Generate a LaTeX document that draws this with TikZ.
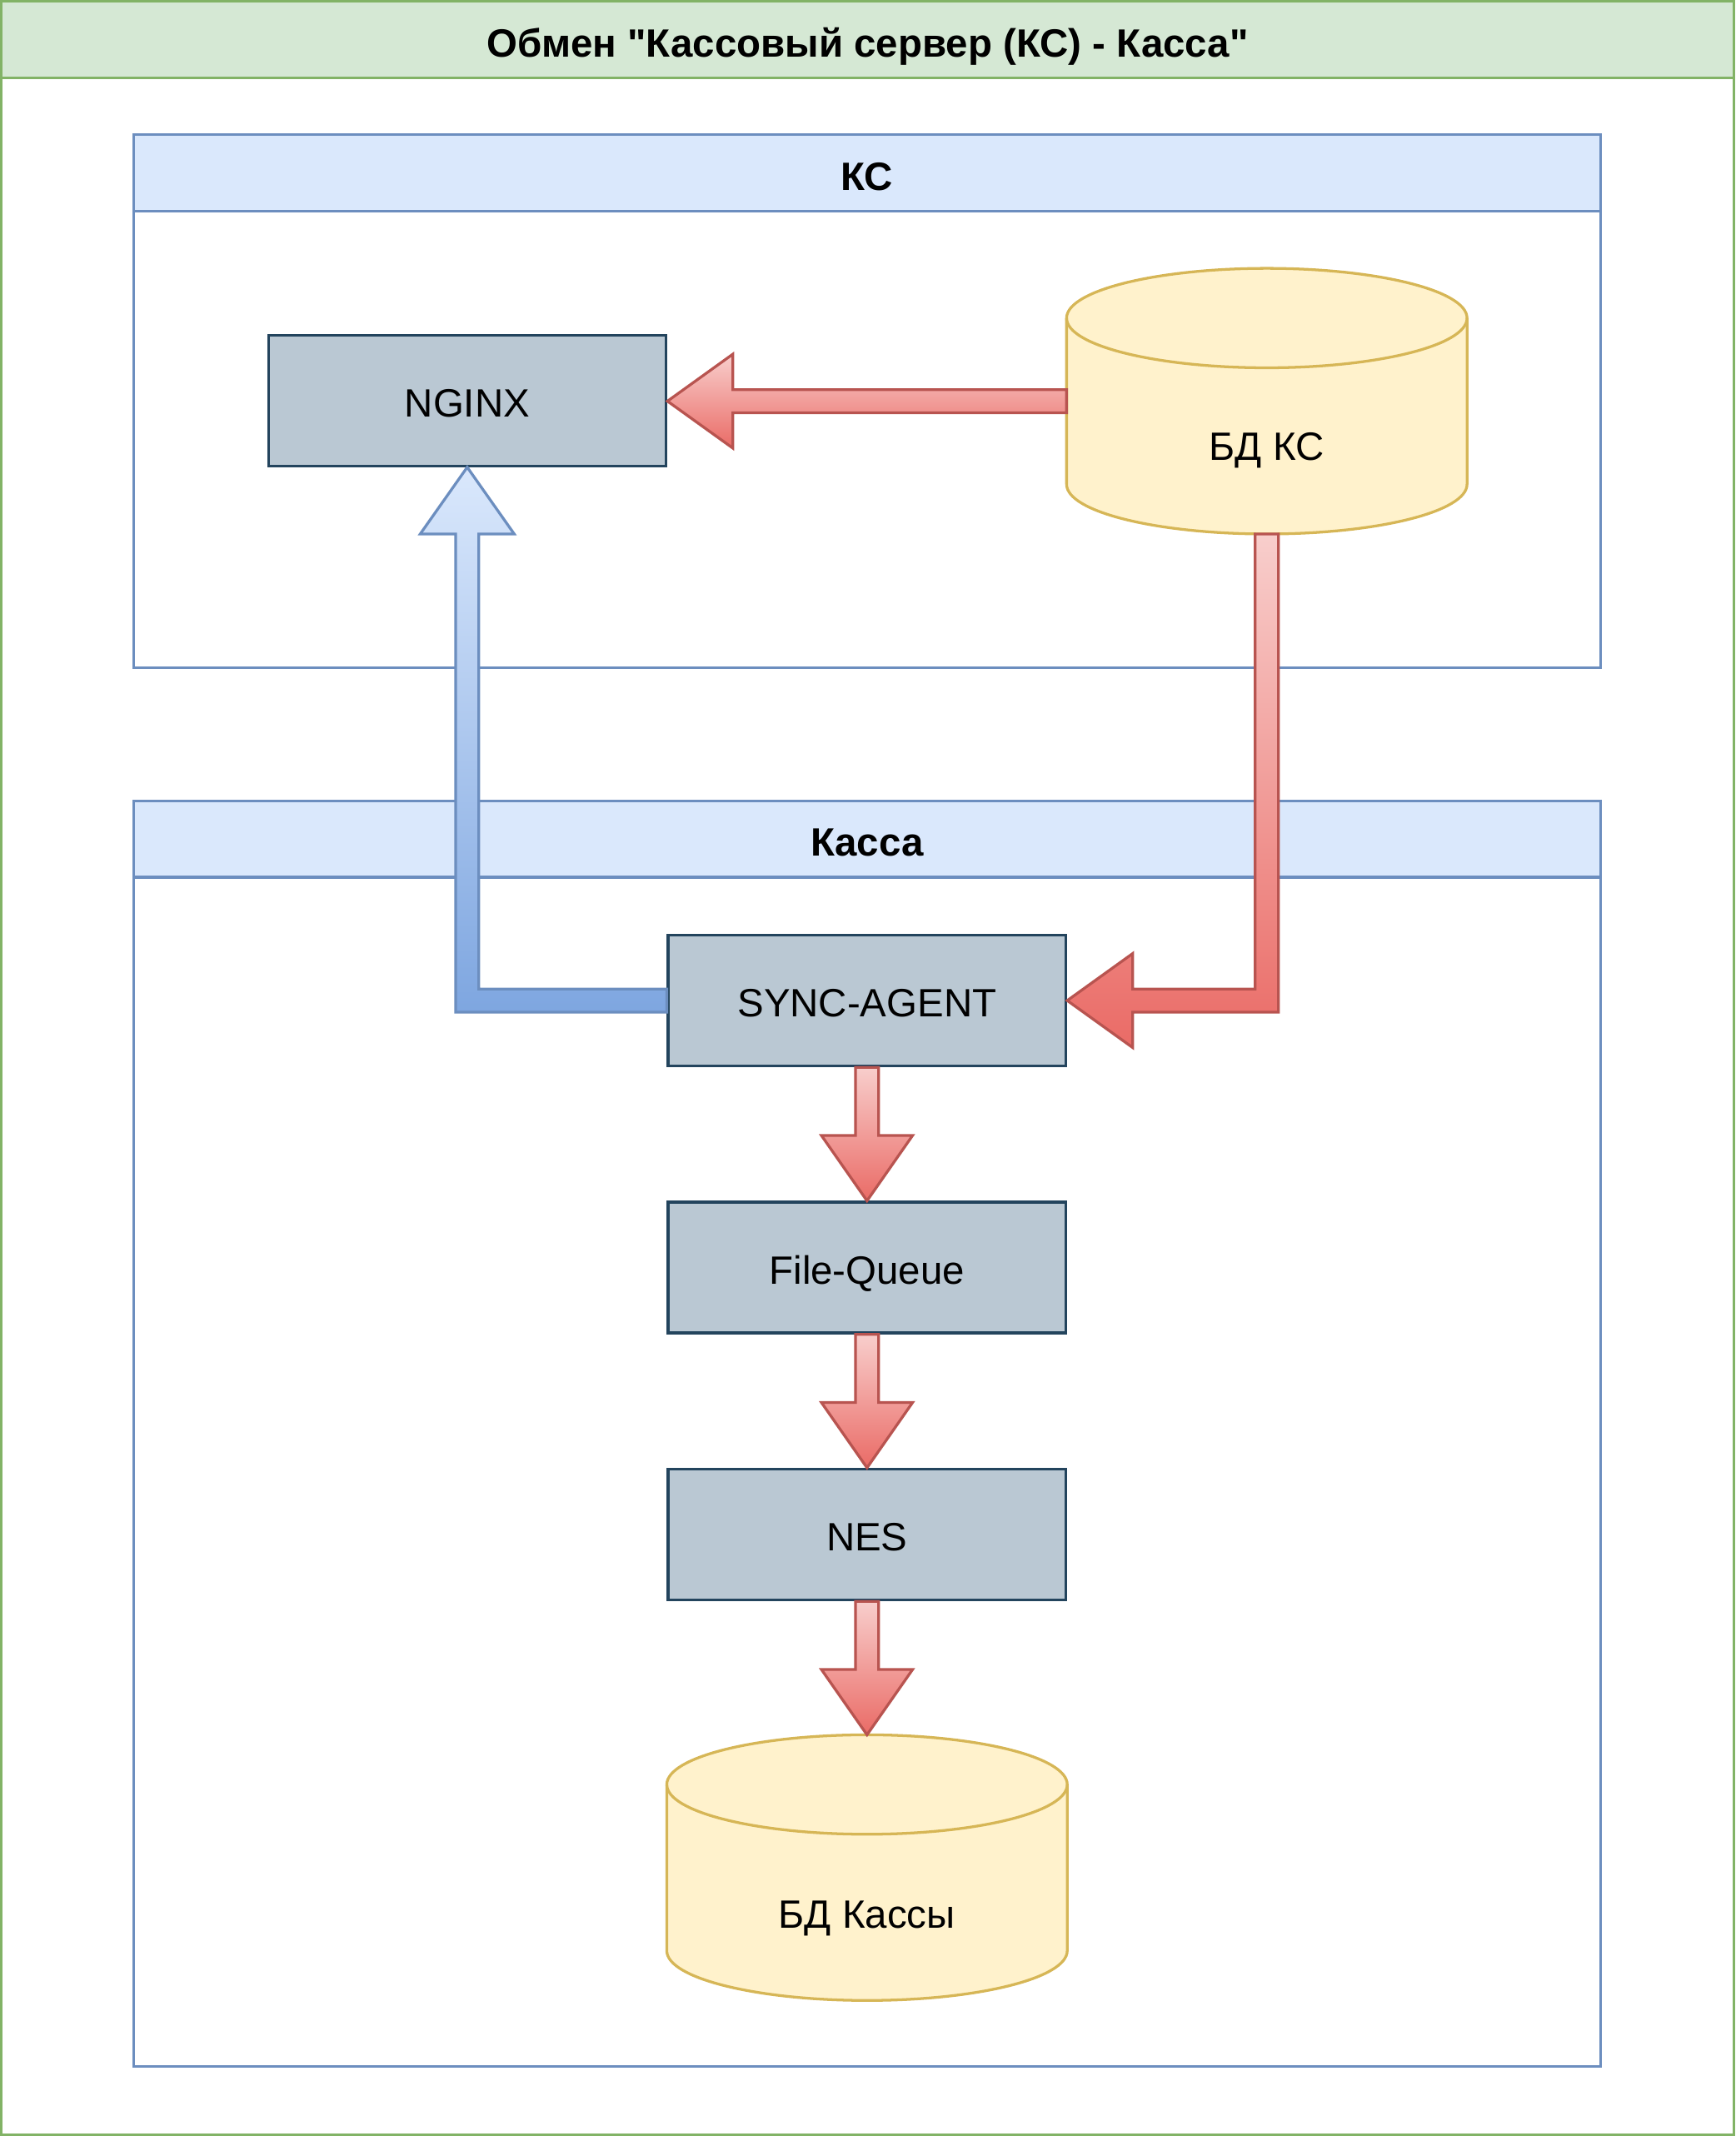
\documentclass[tikz,border=0pt]{standalone}
\usepackage{fontspec}
\setmainfont{Liberation Sans}
\usetikzlibrary{positioning,calc}

\definecolor{boxfill}{HTML}{BAC8D3}
\definecolor{boxline}{HTML}{23445D}
\definecolor{dbfill}{HTML}{FFF2CC}
\definecolor{dbline}{HTML}{D6B656}
\definecolor{headfill}{HTML}{DAE8FC}
\definecolor{headline}{HTML}{6C8EBF}
\definecolor{greenfill}{HTML}{D5E8D4}
\definecolor{greenline}{HTML}{82B366}
\definecolor{redtop}{HTML}{F8CECC}
\definecolor{redbottom}{HTML}{EA6B66}
\definecolor{redline}{HTML}{B85450}
\definecolor{bluetop}{HTML}{DAE8FC}
\definecolor{bluebottom}{HTML}{7EA6E0}

\tikzset{
  txt/.style={font=\fontsize{29}{34}\selectfont, text height=24pt, text depth=0pt},
  box/.style={rectangle, draw=boxline, fill=boxfill, line width=2pt,
    minimum width=292pt, minimum height=96pt, inner sep=0pt, txt},
  dbnode/.style={rectangle, minimum width=294pt, minimum height=195pt,
    inner sep=0pt, outer sep=0pt},
  dbshape/.style={draw=dbline, fill=dbfill, line width=2pt},
  frame/.style={rectangle, draw=headline, line width=2pt, minimum width=1077pt,
    inner sep=0pt},
  framehead/.style={rectangle, draw=headline, fill=headfill, line width=2pt,
    minimum width=1077pt, minimum height=56pt, inner sep=0pt,
    text height=25pt, text depth=0pt,
    font=\fontsize{29}{34}\selectfont\bfseries},
  redarrow/.style={draw=redline, line width=2pt, line join=miter,
    top color=redtop, bottom color=redbottom},
  bluearrow/.style={draw=headline, line width=2pt, line join=miter,
    top color=bluetop, bottom color=bluebottom}
}

\begin{document}
\begin{tikzpicture}[x=1pt,y=1pt]
\useasboundingbox (0,0) rectangle (1274,1568);

% outer frame
\node[rectangle, draw=greenline, line width=2pt, minimum width=1272pt,
  minimum height=1566pt, inner sep=0pt] (main) at (637,784) {};
\node[rectangle, draw=greenline, fill=greenfill, line width=2pt, minimum width=1272pt,
  minimum height=56pt, inner sep=0pt, anchor=north, text height=26pt, text depth=0pt,
  font=\fontsize{29}{34}\selectfont\bfseries] (mainhead) at (main.north)
  {Обмен \textquotedbl Кассовый сервер (КС) - Касса\textquotedbl};

% containers
\node[frame, minimum height=391pt] (ks) at (636.5,1273.5) {};
\node[framehead, anchor=north] (kshead) at (ks.north) {КС};
\node[frame, minimum height=929pt] (kassa) at (636.5,515.5) {};
\node[framehead, anchor=north] (kassahead) at (kassa.north) {Касса};

% blocks
\node[box] (nginx) at (343,1274) {NGINX};
\node[dbnode] (dbks) at (930,1273.5) {};
\node[box] (sync) at (636.5,833.5) {SYNC-AGENT};
\node[box, below=98pt of sync] (fq) {File-Queue};
\node[box, below=98pt of fq] (nes) {NES};
\node[dbnode, below=98pt of nes] (dbk) {};

% cylinders
\foreach \c in {dbks,dbk}{
  \path[dbshape] ($(\c.north west)+(0,-36.5)$) -- ($(\c.south west)+(0,36.5)$)
    arc[start angle=180, end angle=360, x radius=147, y radius=36.5]
    -- ($(\c.north east)+(0,-36.5)$)
    arc[start angle=0, end angle=180, x radius=147, y radius=36.5] -- cycle;
  \draw[dbline, line width=2pt] ($(\c.north west)+(0,-36.5)$)
    arc[start angle=180, end angle=360, x radius=147, y radius=36.5];
}
\node[txt] (dbkslabel) at ($(dbks.center)+(0,-31.5)$) {БД КС};
\node[txt] (dbklabel) at ($(dbk.center)+(0,-32.5)$) {БД Кассы};

% arrows
\path[redarrow] ($(dbks.west)+(0,8.5)$) -- ($(nginx.east |- dbks.west)+(48,8.5)$)
  -- ($(nginx.east |- dbks.west)+(48,34.5)$) -- (nginx.east |- dbks.west)
  -- ($(nginx.east |- dbks.west)+(48,-34.5)$) -- ($(nginx.east |- dbks.west)+(48,-8.5)$)
  -- ($(dbks.west)+(0,-8.5)$) -- cycle;
\path[redarrow] ($(dbks.south)+(-8.5,0)$) -- ($(dbks.south |- sync.east)+(-8.5,8.5)$)
  -- ($(sync.east)+(48,8.5)$) -- ($(sync.east)+(48,34.5)$) -- (sync.east)
  -- ($(sync.east)+(48,-34.5)$) -- ($(sync.east)+(48,-8.5)$)
  -- ($(dbks.south |- sync.east)+(8.5,-8.5)$) -- ($(dbks.south)+(8.5,0)$) -- cycle;
\path[bluearrow] ($(sync.west)+(0,8.5)$) -- ($(nginx.south |- sync.west)+(8.5,8.5)$)
  -- ($(nginx.south)+(8.5,-49)$) -- ($(nginx.south)+(34.5,-49)$) -- (nginx.south)
  -- ($(nginx.south)+(-34.5,-49)$) -- ($(nginx.south)+(-8.5,-49)$)
  -- ($(nginx.south |- sync.west)+(-8.5,-8.5)$) -- ($(sync.west)+(0,-8.5)$) -- cycle;
\foreach \a/\b in {sync/fq,fq/nes,nes/dbk}{
  \path[redarrow] ($(\a.south)+(-8.5,0)$) -- ($(\b.north)+(-8.5,48)$)
    -- ($(\b.north)+(-33.5,48)$) -- (\b.north) -- ($(\b.north)+(33.5,48)$)
    -- ($(\b.north)+(8.5,48)$) -- ($(\a.south)+(8.5,0)$) -- cycle;
}
\end{tikzpicture}
\end{document}
